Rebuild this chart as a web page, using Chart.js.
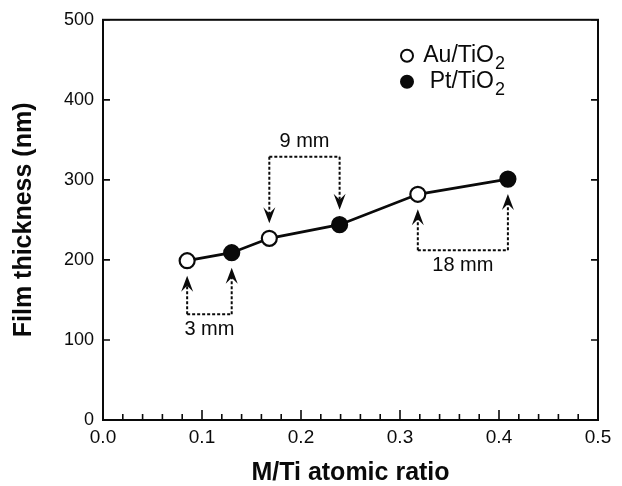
<!DOCTYPE html>
<html>
<head>
<meta charset="utf-8">
<script src="https://cdn.jsdelivr.net/npm/chart.js"></script>
<style>
  html, body { margin: 0; padding: 0; background: #fff; }
  #wrap { width: 622px; height: 486px; }
</style>
</head>
<body>
<div id="wrap"><canvas id="thicknessChart"></canvas></div>
<script>
// M/Ti ratio and film thickness
const auRatio = [0.085, 0.168, 0.318];
const auThickness = [199, 227, 282];
const ptRatio = [0.130, 0.239, 0.409];
const ptThickness = [209, 244, 301];

// distance brackets between neighbouring samples
const gapLabels = ["3 mm", "9 mm", "18 mm"];
const gapFrom = [0.085, 0.168, 0.318];
const gapTo = [0.130, 0.239, 0.409];
const gapBar = [132, 329, 212];

const xTicks = [0.0, 0.1, 0.2, 0.3, 0.4, 0.5];
const yTicks = [0, 100, 200, 300, 400, 500];

const FONT = "'Liberation Sans', Arial, sans-serif";
const INK = "#0a0a0a";

const auPoints = auRatio.map((x, i) => ({ x: x, y: auThickness[i] }));
const ptPoints = ptRatio.map((x, i) => ({ x: x, y: ptThickness[i] }));
const allPoints = auPoints.concat(ptPoints).sort((a, b) => a.x - b.x);

function yAt(x) {
  const p = allPoints.find((pt) => pt.x === x);
  return p ? p.y : 0;
}

function drawArrow(ctx, x, yFrom, yTip) {
  const dir = yTip > yFrom ? 1 : -1;
  const headLen = 16;
  ctx.save();
  ctx.setLineDash([3, 2]);
  ctx.lineWidth = 2;
  ctx.beginPath();
  ctx.moveTo(x, yFrom);
  ctx.lineTo(x, yTip - dir * headLen * 0.6);
  ctx.stroke();
  ctx.setLineDash([]);
  ctx.beginPath();
  ctx.moveTo(x, yTip);
  ctx.lineTo(x - 6, yTip - dir * headLen);
  ctx.lineTo(x, yTip - dir * headLen * 0.62);
  ctx.lineTo(x + 6, yTip - dir * headLen);
  ctx.closePath();
  ctx.fill();
  ctx.restore();
}

const framePlugin = {
  id: "frame",
  afterDatasetsDraw(chart) {
    const ctx = chart.ctx;
    const area = chart.chartArea;
    const xs = chart.scales.x;
    const ys = chart.scales.y;
    ctx.save();
    ctx.strokeStyle = INK;
    ctx.fillStyle = INK;

    // box
    ctx.lineWidth = 2;
    ctx.strokeRect(area.left, area.top, area.right - area.left, area.bottom - area.top);

    // inward ticks
    ctx.lineWidth = 1.6;
    for (let i = 0; i <= 25; i++) {
      const px = xs.getPixelForValue(i * 0.02);
      const len = i % 5 === 0 ? 10 : 6;
      ctx.beginPath();
      ctx.moveTo(px, area.bottom);
      ctx.lineTo(px, area.bottom - len);
      ctx.stroke();
    }
    yTicks.forEach((v) => {
      const py = ys.getPixelForValue(v);
      ctx.beginPath();
      ctx.moveTo(area.left, py);
      ctx.lineTo(area.left + 7, py);
      ctx.moveTo(area.right, py);
      ctx.lineTo(area.right - 7, py);
      ctx.stroke();
    });

    // distance brackets
    ctx.font = "20px " + FONT;
    ctx.textAlign = "center";
    ctx.textBaseline = "middle";
    gapLabels.forEach((label, i) => {
      const x1 = xs.getPixelForValue(gapFrom[i]);
      const x2 = xs.getPixelForValue(gapTo[i]);
      const bar = ys.getPixelForValue(gapBar[i]);
      const p1 = ys.getPixelForValue(yAt(gapFrom[i]));
      const p2 = ys.getPixelForValue(yAt(gapTo[i]));
      const below = bar > p1;
      const tip1 = below ? p1 + 15 : p1 - 15;
      const tip2 = below ? p2 + 15 : p2 - 15;
      ctx.save();
      ctx.setLineDash([3, 2]);
      ctx.lineWidth = 2;
      ctx.beginPath();
      ctx.moveTo(x1, bar);
      ctx.lineTo(x2, bar);
      ctx.stroke();
      ctx.restore();
      drawArrow(ctx, x1, bar, tip1);
      drawArrow(ctx, x2, bar, tip2);
      const ly = below ? bar + 15 : bar - 15;
      ctx.fillText(label, (x1 + x2) / 2, ly);
    });

    // legend
    const lx = area.right - 191;
    const rows = [
      { y: area.top + 36, ds: chart.data.datasets[1], text: "Au/TiO" },
      { y: area.top + 62, ds: chart.data.datasets[2], text: "Pt/TiO" },
    ];
    const textRight = area.right - 104;
    ctx.textBaseline = "middle";
    rows.forEach((r) => {
      ctx.beginPath();
      ctx.lineWidth = 2;
      ctx.fillStyle = r.ds.pointBackgroundColor;
      ctx.arc(lx, r.y, 6, 0, Math.PI * 2);
      ctx.fill();
      ctx.stroke();
      ctx.fillStyle = INK;
      ctx.font = "23px " + FONT;
      ctx.textAlign = "right";
      ctx.fillText(r.text, textRight, r.y);
      ctx.textAlign = "left";
      ctx.font = "18px " + FONT;
      ctx.fillText("2", textRight + 1, r.y + 8);
    });
    ctx.restore();
  },
};

new Chart(document.getElementById("thicknessChart"), {
  type: "scatter",
  data: {
    datasets: [
      {
        type: "line",
        data: allPoints,
        borderColor: INK,
        borderWidth: 2.8,
        pointRadius: 0,
        fill: false,
        order: 3,
      },
      {
        label: "Au/TiO2",
        data: auPoints,
        pointRadius: 7.5,
        pointBorderWidth: 2.2,
        pointBorderColor: INK,
        pointBackgroundColor: "#fff",
        order: 1,
      },
      {
        label: "Pt/TiO2",
        data: ptPoints,
        pointRadius: 7.5,
        pointBorderWidth: 2.2,
        pointBorderColor: INK,
        pointBackgroundColor: INK,
        order: 1,
      },
    ],
  },
  options: {
    responsive: true,
    maintainAspectRatio: false,
    animation: false,
    layout: { padding: { top: 16, right: 24, left: 0, bottom: 0 } },
    plugins: {
      legend: { display: false },
      tooltip: { enabled: false },
    },
    scales: {
      x: {
        type: "linear",
        min: 0,
        max: 0.5,
        afterBuildTicks: (s) => { s.ticks = xTicks.map((v) => ({ value: v })); },
        afterFit: (s) => { s.height = 66; },
        grid: { display: false, drawTicks: false },
        border: { display: false },
        ticks: {
          color: INK,
          font: { family: FONT, size: 19 },
          padding: 6,
          maxRotation: 0,
          callback: (v) => v.toFixed(1),
        },
        title: {
          display: true,
          text: "M/Ti atomic ratio",
          color: INK,
          font: { family: FONT, size: 25, weight: "bold", lineHeight: 1.05 },
          padding: { top: 8, bottom: 0 },
        },
      },
      y: {
        type: "linear",
        min: 0,
        max: 500,
        afterBuildTicks: (s) => { s.ticks = yTicks.map((v) => ({ value: v })); },
        afterFit: (s) => { s.width = 103; },
        grid: { display: false, drawTicks: false },
        border: { display: false },
        ticks: {
          color: INK,
          font: { family: FONT, size: 18 },
          padding: 9,
        },
        title: {
          display: true,
          text: "Film thickness (nm)",
          color: INK,
          font: { family: FONT, size: 25, weight: "bold" },
          padding: { top: 9, bottom: 0 },
        },
      },
    },
  },
  plugins: [framePlugin],
});
</script>
</body>
</html>
